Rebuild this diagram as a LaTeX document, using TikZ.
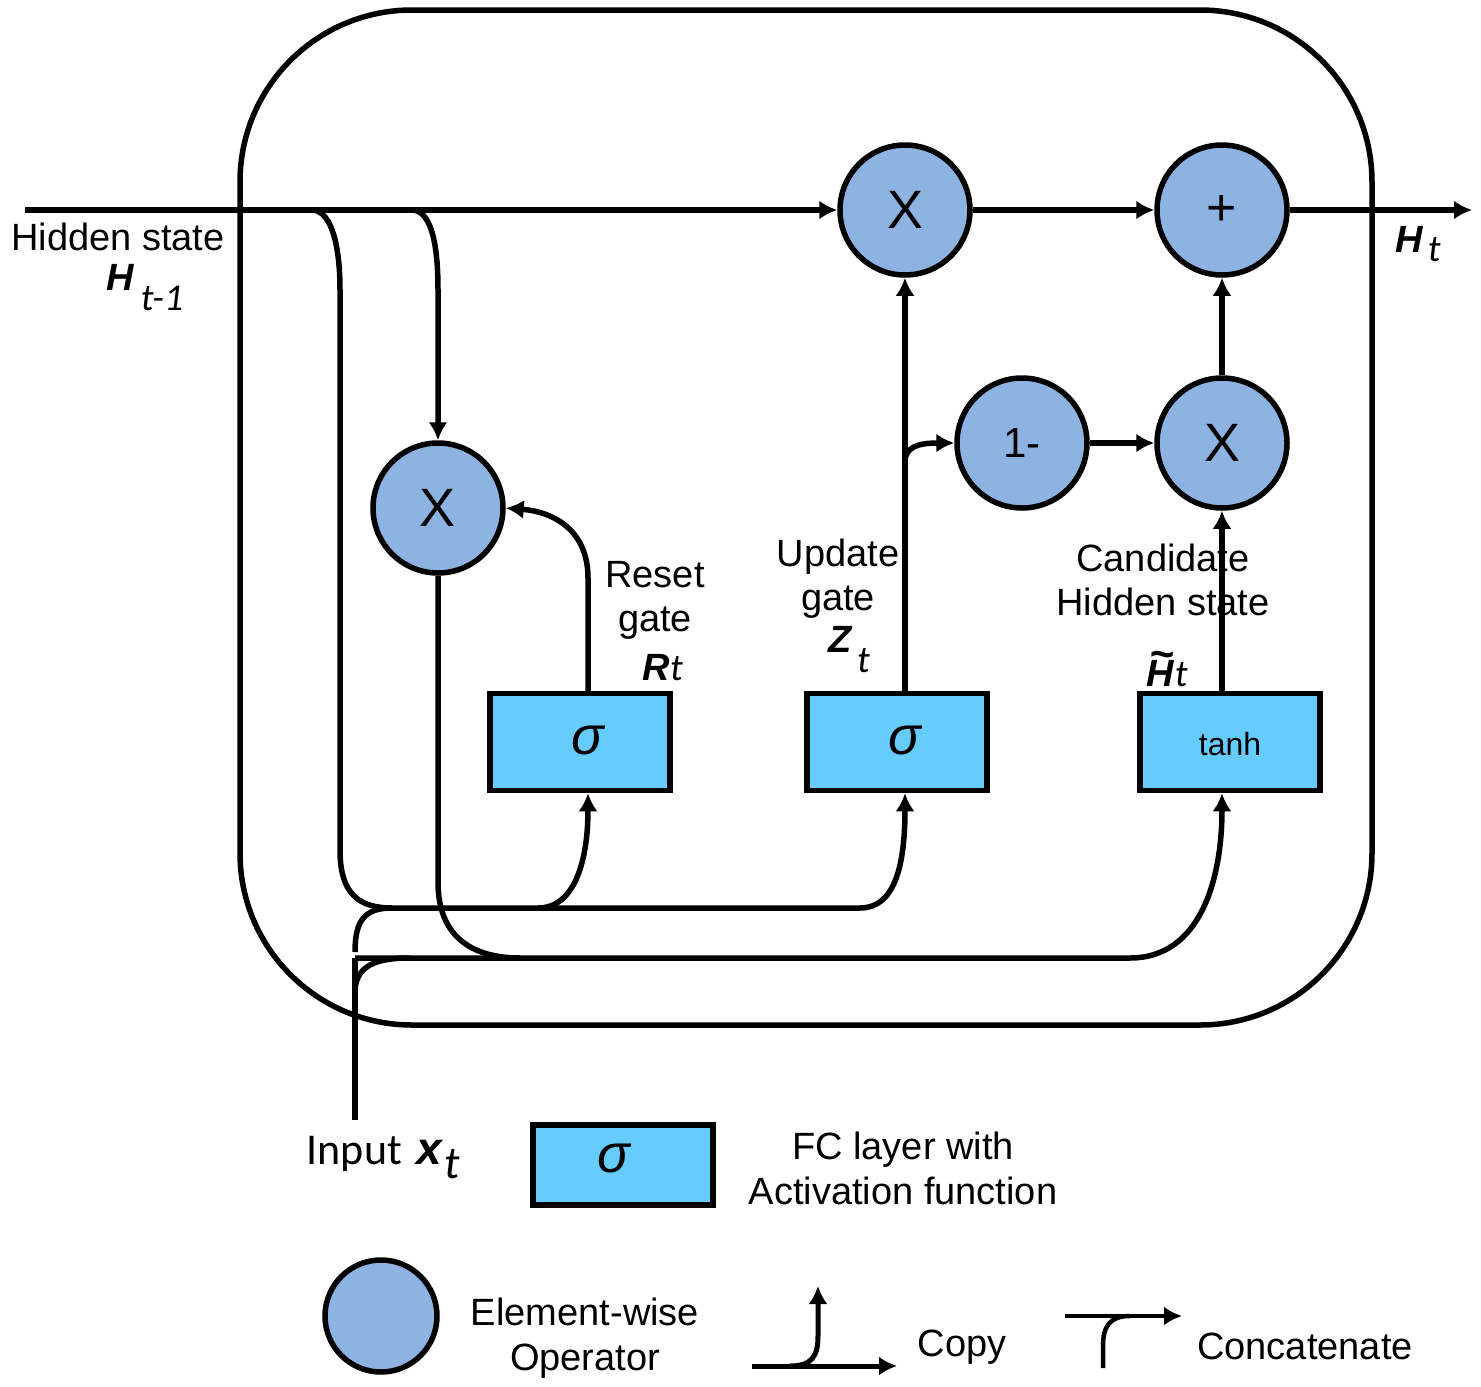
\documentclass[tikz,border=0pt]{standalone}
\usepackage{fontspec}
\setmainfont{Liberation Sans}
\newfontfamily\calfont{Carlito}
\usetikzlibrary{arrows.meta,calc}

\definecolor{opfill}{HTML}{8DB3E2}
\definecolor{fcfill}{HTML}{66CCFF}

\newcommand{\bi}[1]{\textbf{\textit{#1}}}
\newcommand{\sub}[1]{{\calfont\itshape #1}}
% H with a large tilde set above it
\newcommand{\tildeH}{\bi{\makebox[0pt][l]{\hspace{3pt}\raisebox{18pt}{\fontsize{42}{42}\selectfont\char"7E}}H}}

\begin{document}
\begin{tikzpicture}[x=1pt,y=-1pt,
  line width=5.5pt,
  op/.style={circle,draw,fill=opfill,minimum size=130pt,inner sep=0pt,
             font=\fontsize{54}{54}\selectfont},
  fc/.style={draw,fill=fcfill,minimum width=180pt,minimum height=97pt,inner sep=0pt},
  arr/.style={-{Latex[length=18pt,width=19pt]}},
  lbl/.style={font=\fontsize{38}{44}\selectfont,align=center,inner sep=0pt},
  sig/.style={font=\fontsize{54}{54}\selectfont\itshape},
]
\useasboundingbox (0,0) rectangle (1481,1387);

% cell outline
\draw[rounded corners=172pt] (240,10) rectangle (1372,1025);

% element-wise operators
\node[op] (mulH) at (905,210) {X};
\node[op,font=\fontsize{52}{52}\selectfont] (plus) at (1222,210) {+};
\node[op] (mulR) at (438,508) {X};
\node[op,font=\fontsize{42}{42}\selectfont] (onem) at (1022,443) {1-};
\node[op] (mulC) at (1222,443) {X};

% fully connected layers
\node[fc] (fcR) at (580,742) {};
\node[fc] (fcZ) at (897,742) {};
\node[fc] (fcH) at (1230,742) {};
\node[sig] (sR) at (588,740) {σ};
\node[sig] (sZ) at (905,740) {σ};
\node[font=\fontsize{32}{32}\selectfont] (tH) at (1230,744) {tanh};

% ports on the layers
\coordinate (rt) at ($(fcR.north)+(8,0)$);
\coordinate (rb) at ($(fcR.south)+(8,0)$);
\coordinate (zt) at ($(fcZ.north)+(8,0)$);
\coordinate (zb) at ($(fcZ.south)+(8,0)$);
\coordinate (ht) at ($(fcH.north)+(-8,0)$);
\coordinate (hb) at ($(fcH.south)+(-8,0)$);

% free ends
\coordinate (hin) at (25,210);
\coordinate (hout) at (1472,210);
\coordinate (xin) at (355,1120);

% hidden state path
\draw[arr] (hin) -- (mulH);
\draw[arr] (mulH) -- (plus);
\draw[arr] (plus) -- (hout);

% copies of the hidden state
\draw (313,210) .. controls (333,212) and (340,250) .. (340,290) -- (340,850)
      .. controls (340,895) and (360,908) .. (392,908);
\draw[arr] (413,210) .. controls (433,212) and (438,250) .. (438,290) -- (mulR.north);

% concatenation with the input
\draw (xin) -- (355,958);
\draw (355,952) .. controls (355,920) and (365,908) .. (392,908);
\draw (355,988) .. controls (358,966) and (375,958) .. (410,958);
\draw[arr] (385,908) -- (860,908) .. controls (893,908) and (905,870) .. (zb);
\draw[arr] (538,908) .. controls (575,908) and (588,860) .. (rb);
\draw[arr] (355,958) -- (1130,958) .. controls (1200,958) and (1222,880) .. (hb);
\draw (mulR.south) -- (438,882) .. controls (438,935) and (470,958) .. (520,958);

% gates
\draw[arr] (rt) -- (588,578) .. controls (588,532) and (556,512) .. (mulR.east);
\draw[arr] (zt) -- (mulH.south);
\draw[arr] (905,462) .. controls (905,447) and (918,443) .. (onem.west);
\draw[arr] (onem) -- (mulC);
\draw[arr] (ht) -- (mulC.south);
\draw[arr] (mulC) -- (plus);

% labels
\node[lbl] (lhid) at (118,237) {Hidden state};
\node[lbl,anchor=west] (lhprev) at (104,288) {\bi{H}\hspace{6pt}\raisebox{-20pt}{\sub{t-1}}};
\node[lbl,anchor=west] (lhnext) at (1393,244) {\bi{H}\hspace{4pt}\raisebox{-9pt}{\sub{t}}};
\node[lbl] (lreset) at (655,600) {Reset\\gate};
\node[lbl,anchor=west] (lR) at (640,668) {\bi{R}\sub{t}};
\node[lbl] (lupd) at (838,579) {Update\\gate};
\node[lbl,anchor=west] (lZ) at (826,650) {\bi{Z}\hspace{4pt}\raisebox{-20pt}{\sub{t}}};
\node[lbl] (lcand) at (1163,580) {Candidate\\Hidden state};
\node[lbl,anchor=base west] (lHc) at (1144,686) {\tildeH\sub{t}};

% legend
\node[lbl,anchor=base west,font=\fontsize{44}{44}\selectfont\calfont] (lin) at (304,1164)
  {Input};
\node[lbl,anchor=base west,font=\fontsize{46}{46}\selectfont] (linx) at (414,1164)
  {\bi{x}\hspace{1pt}\raisebox{-14pt}{\sub{t}}};
\node[fc,minimum height=80pt] (legfc) at (623,1165) {};
\node[sig] (legs) at (614,1158) {σ};
\node[lbl,font=\fontsize{38}{45}\selectfont] (legfct) at (903,1168) {FC layer with\\Activation function};
\node[op,minimum size=112pt] (legop) at (381,1316) {};
\node[lbl,font=\fontsize{38}{45}\selectfont] (legopt) at (585,1338) {Element-wise\\Operator};

\coordinate (cpa) at (752,1366);
\coordinate (cpb) at (897,1366);
\coordinate (cpc) at (818,1286);
\draw[arr,line width=5pt] (cpa) -- (cpb);
\draw[arr,line width=5pt] (790,1366) .. controls (812,1366) and (818,1356) .. (818,1336) -- (cpc);
\node[lbl] (legcp) at (962,1347) {Copy};

\coordinate (cca) at (1065,1316);
\coordinate (ccb) at (1182,1316);
\coordinate (ccc) at (1103,1368);
\draw[arr,line width=4.5pt] (cca) -- (ccb);
\draw[line width=4.5pt] (ccc) -- (1103,1346) .. controls (1103,1326) and (1110,1316) .. (1130,1316);
\node[lbl] (legcc) at (1305,1346) {Concatenate};
\end{tikzpicture}
\end{document}
